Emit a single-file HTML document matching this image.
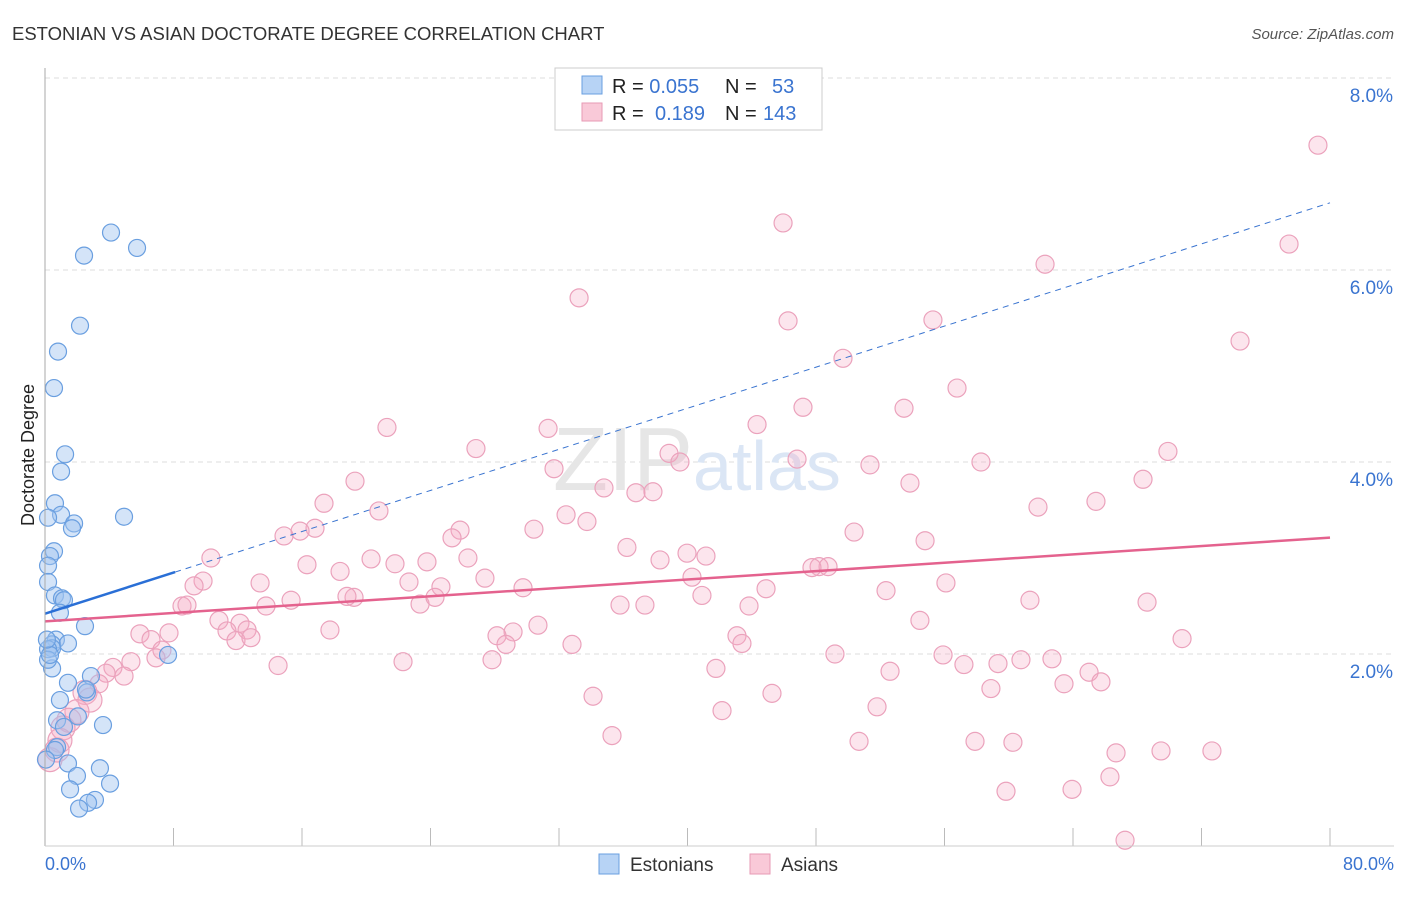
<!DOCTYPE html>
<html><head><meta charset="utf-8"><style>
body{margin:0;background:#fff;font-family:"Liberation Sans",sans-serif;}
svg text{font-family:"Liberation Sans",sans-serif;}
</style></head><body>
<svg width="1406" height="892">
<text x="12" y="40" font-size="18.5" fill="#333">ESTONIAN VS ASIAN DOCTORATE DEGREE CORRELATION CHART</text>
<text x="1394" y="39" font-size="15" fill="#555" text-anchor="end" font-style="italic">Source: ZipAtlas.com</text>
<g id="grid"></g>
<text x="553" y="490" font-size="90" fill="#e6e6e6" font-family="Liberation Serif">ZIP<tspan fill="#dbe6f5" font-family="Liberation Sans" font-size="70">atlas</tspan></text>
<g id="pts"></g>
<g id="lines"></g>
<line x1="45" y1="68" x2="45" y2="846" stroke="#aaa"/>
<line x1="45" y1="846" x2="1394" y2="846" stroke="#ccc"/>
<text x="34" y="455" font-size="18" fill="#222" transform="rotate(-90 34 455)" text-anchor="middle">Doctorate Degree</text>
<text x="45" y="870" font-size="18" fill="#3a74d0">0.0%</text>
<text x="1394" y="870" font-size="18" fill="#3a74d0" text-anchor="end">80.0%</text>
<g>
<rect x="555" y="68" width="267" height="62" fill="#fff" stroke="#ccc"/>
<rect x="582" y="76" width="20" height="18" fill="#b7d3f5" stroke="#6a9fe0"/>
<rect x="582" y="103" width="20" height="18" fill="#f9c9d8" stroke="#e79ab5"/>
<text x="612" y="93" font-size="20" fill="#222">R = <tspan fill="#3a74d0">0.055</tspan><tspan x="725">N = </tspan><tspan x="772" fill="#3a74d0">53</tspan></text>
<text x="612" y="120" font-size="20" fill="#222">R = <tspan x="655" fill="#3a74d0">0.189</tspan><tspan x="725">N = </tspan><tspan x="763" fill="#3a74d0">143</tspan></text>
</g>
<g>
<rect x="599" y="854" width="20" height="20" fill="#b7d3f5" stroke="#6a9fe0"/>
<text x="630" y="871" font-size="19" fill="#333">Estonians</text>
<rect x="750" y="854" width="20" height="20" fill="#f9c9d8" stroke="#e79ab5"/>
<text x="781" y="871" font-size="19" fill="#333">Asians</text>
</g>
</svg>
<script>
const yTicks=[2,4,6,8];
const xTicks=[0,8,16,24,32,40,48,56,64,72,80];
const bluePx=[[111,233],[137,248],[84,256],[80,326],[58,352],[54,388],[65,454],[61,472],[55,503],[61,515],[74,523],[72,528],[124,517],[48,518],[54,551],[50,556],[48,566],[48,582],[55,595],[62,598],[64,600],[60,613],[85,626],[56,640],[52,644],[68,643],[52,648],[48,649],[52,668],[168,655],[91,676],[68,683],[60,700],[87,692],[86,690],[78,716],[57,720],[64,727],[103,725],[57,747],[55,750],[68,763],[100,768],[77,776],[70,789],[110,784],[95,800],[88,803],[79,809],[48,660],[50,655],[47,640],[46,760]];
const pinkPx=[[1318,145],[783,223],[1289,244],[1045,264],[579,298],[933,320],[788,321],[1240,341],[843,358],[957,388],[803,407],[904,408],[387,427],[757,425],[548,428],[476,449],[1168,451],[669,453],[680,462],[797,459],[981,462],[870,465],[554,469],[355,481],[1143,479],[604,488],[636,493],[653,492],[910,483],[1096,501],[1038,507],[566,515],[587,522],[324,503],[379,511],[315,528],[300,531],[284,536],[460,530],[452,538],[534,529],[854,532],[925,541],[627,547],[211,558],[307,565],[687,553],[706,556],[660,560],[468,558],[371,559],[395,564],[427,562],[340,571],[819,567],[828,567],[812,568],[485,578],[692,577],[409,582],[203,581],[194,586],[260,583],[946,583],[441,587],[354,597],[523,588],[766,589],[702,595],[886,591],[347,596],[182,606],[187,605],[291,600],[266,606],[420,604],[435,597],[620,605],[645,605],[749,606],[1030,600],[1147,602],[219,620],[240,623],[920,620],[538,625],[330,630],[140,634],[227,631],[247,630],[169,633],[151,640],[513,632],[497,636],[506,644],[737,636],[742,643],[1182,639],[572,644],[236,641],[251,638],[162,650],[156,658],[835,654],[943,655],[492,660],[998,664],[1052,659],[1021,660],[131,662],[113,667],[278,666],[403,662],[964,665],[716,668],[106,673],[124,676],[1089,672],[1101,682],[890,671],[1064,684],[991,689],[99,684],[85,692],[593,696],[772,693],[90,700],[77,712],[722,711],[877,707],[69,720],[63,728],[60,740],[612,736],[859,741],[975,741],[1013,742],[1161,751],[1212,751],[1116,753],[50,760],[57,750],[1110,777],[1006,791],[1072,789],[1125,840]];
const blueX=bluePx.map(p=>+((p[0]-45)*80/1285).toFixed(2));
const blueY=bluePx.map(p=>+((846-p[1])/96).toFixed(2));
const pinkX=pinkPx.map(p=>+((p[0]-45)*80/1285).toFixed(2));
const pinkY=pinkPx.map(p=>+((846-p[1])/96).toFixed(2));
const blueTrend=[2.42,0.0535];
const pinkTrend=[2.34,0.0109];
const NS='http://www.w3.org/2000/svg';
const X=v=>45+v*1285/80, Y=v=>846-v*96;
function mk(t,a,parent){const e=document.createElementNS(NS,t);for(const k in a)e.setAttribute(k,a[k]);document.getElementById(parent).appendChild(e);return e;}
yTicks.forEach(t=>{
 const l=mk('line',{x1:45,x2:1394,y1:Y(t),y2:Y(t),stroke:'#ddd','stroke-dasharray':'5,4'},'grid');
 
 
 const tx=mk('text',{x:1393,y:Y(t)+24,'font-size':19,fill:'#3a74d0','text-anchor':'end'},'grid');
 tx.textContent=t.toFixed(1)+'%';
 
 
});
xTicks.forEach(t=>{
 const l=mk('line',{x1:X(t),x2:X(t),y1:828,y2:846,stroke:'#bbb'},'grid');
 
 
});
pinkX.forEach((x,i)=>{
 const r=(x<3&&pinkY[i]<2)?12:9;
 const c=mk('circle',{cx:X(x),cy:Y(pinkY[i]),r:r,fill:'rgba(244,170,195,0.3)',stroke:'#eba2bc','stroke-width':1.2},'pts');
 
 
});
blueX.forEach((x,i)=>{
 const c=mk('circle',{cx:X(x),cy:Y(blueY[i]),r:8.5,fill:'rgba(160,196,240,0.45)',stroke:'#6a9fe0','stroke-width':1.2},'pts');
 
 
});
let l=mk('line',{x1:X(8.1),y1:Y(blueTrend[0]+blueTrend[1]*8.1),x2:X(80),y2:Y(blueTrend[0]+blueTrend[1]*80),stroke:'#3a74d0','stroke-width':1,'stroke-dasharray':'6,5'},'lines');


l=mk('line',{x1:X(0),y1:Y(blueTrend[0]),x2:X(8.1),y2:Y(blueTrend[0]+blueTrend[1]*8.1),stroke:'#2a6fd6','stroke-width':2.5},'lines');


l=mk('line',{x1:X(0),y1:Y(pinkTrend[0]),x2:X(80),y2:Y(pinkTrend[0]+pinkTrend[1]*80),stroke:'#e4628e','stroke-width':2.5},'lines');


</script>
</body></html>
